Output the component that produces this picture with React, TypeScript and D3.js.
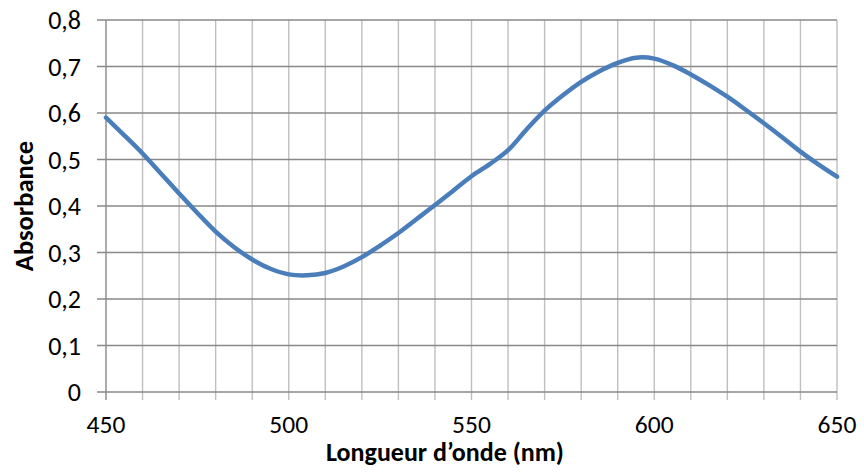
import React from "react";
import * as d3 from "d3";

// spectrum
const wavelengths = [
  450, 455, 460, 465, 470, 475, 480, 485, 490, 495, 500, 505, 510, 515, 520,
  525, 530, 535, 540, 545, 550, 555, 560, 565, 570, 575, 580, 585, 590, 595,
  600, 605, 610, 615, 620, 625, 630, 635, 640, 645, 650,
];
const absorbance = [
  0.59, 0.552, 0.513, 0.47, 0.427, 0.385, 0.345, 0.312, 0.285, 0.265, 0.253,
  0.251, 0.256, 0.27, 0.29, 0.315, 0.342, 0.372, 0.402, 0.433, 0.464, 0.49,
  0.52, 0.564, 0.605, 0.638, 0.667, 0.69, 0.708, 0.719, 0.717, 0.703, 0.683,
  0.66, 0.635, 0.607, 0.578, 0.548, 0.517, 0.489, 0.463,
];
const xTickLabels = ["450", "500", "550", "600", "650"];
const yTickLabels = ["0", "0,1", "0,2", "0,3", "0,4", "0,5", "0,6", "0,7", "0,8"];

const W = 864;
const H = 472;
const margin = { top: 20, right: 27, bottom: 80, left: 106 };
const font = "Carlito, Calibri, Lato, sans-serif";

export default function App() {
  const x = d3
    .scaleLinear()
    .domain([450, 650])
    .range([margin.left, W - margin.right]);
  const y = d3
    .scaleLinear()
    .domain([0, 0.8])
    .range([H - margin.bottom, margin.top]);

  const minorX = d3.range(450, 651, 10);
  const yTicks = yTickLabels.map((_, i) => i / 10);

  const points = wavelengths.map((w, i) => [w, absorbance[i]] as [number, number]);
  const line = d3
    .line<[number, number]>()
    .x((d) => x(d[0]))
    .y((d) => y(d[1]))
    .curve(d3.curveCatmullRom.alpha(0.5));

  const y0 = y(0);

  return (
    <svg
      width={W}
      height={H}
      style={{ position: "absolute", left: 0, top: 0, background: "#fff" }}
    >
      {/* vertical gridlines + ticks */}
      {minorX.map((v) => (
        <line
          key={"vx" + v}
          x1={x(v)}
          x2={x(v)}
          y1={margin.top}
          y2={y0 + 8}
          stroke={v === 450 ? "#898989" : "#bfbfbf"}
          strokeWidth={1.4}
        />
      ))}
      {/* horizontal gridlines + ticks */}
      {yTicks.map((v) => (
        <line
          key={"hy" + v}
          x1={margin.left - 9}
          x2={W - margin.right}
          y1={y(v)}
          y2={y(v)}
          stroke="#898989"
          strokeWidth={1.4}
        />
      ))}

      <path
        d={line(points) || ""}
        fill="none"
        stroke="#4a7ebb"
        strokeWidth={4.5}
        strokeLinecap="round"
      />

      {/* y tick labels */}
      {yTickLabels.map((t, i) => (
        <text
          key={"yl" + t}
          x={81}
          y={y(yTicks[i])}
          dy="0.36em"
          textAnchor="end"
          fontFamily={font}
          fontSize={26}
        >
          {t}
        </text>
      ))}
      {/* x tick labels */}
      {xTickLabels.map((t) => (
        <text
          key={"xl" + t}
          x={x(+t)}
          y={433}
          textAnchor="middle"
          fontFamily={font}
          fontSize={25.5}
        >
          {t}
        </text>
      ))}

      <text
        x={445}
        y={461}
        textAnchor="middle"
        fontFamily={font}
        fontSize={26}
        fontWeight="bold"
      >
        Longueur d’onde (nm)
      </text>
      <text
        transform={`translate(33, ${(margin.top + y0) / 2}) rotate(-90)`}
        textAnchor="middle"
        fontFamily={font}
        fontSize={26.5}
        fontWeight="bold"
      >
        Absorbance
      </text>
    </svg>
  );
}
